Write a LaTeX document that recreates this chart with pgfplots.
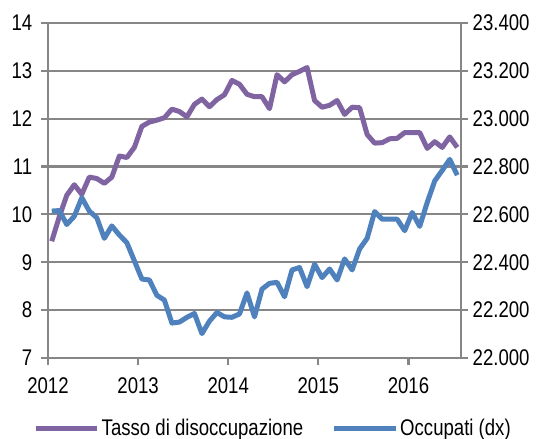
\documentclass[border=0pt]{standalone}
\usepackage{fontspec}
\setmainfont{Liberation Sans}[FakeStretch=0.82]
\usepackage{pgfplots}
\usepackage{pgfplotstable}
\pgfplotsset{compat=1.18}
\usetikzlibrary{calc}
\definecolor{purp}{HTML}{8064A2}
\definecolor{blu}{HTML}{4F81BD}
\definecolor{gridg}{HTML}{868686}

% month index i: 0 = Jan 2012 ... 54 = Jul 2016
\pgfplotstableread{
i  tasso
0  9.44
1  9.95
2  10.40
3  10.62
4  10.42
5  10.78
6  10.75
7  10.65
8  10.78
9  11.22
10 11.19
11 11.40
12 11.84
13 11.93
14 11.97
15 12.02
16 12.20
17 12.15
18 12.04
19 12.30
20 12.41
21 12.25
22 12.40
23 12.50
24 12.80
25 12.72
26 12.51
27 12.46
28 12.46
29 12.21
30 12.92
31 12.77
32 12.92
33 12.99
34 13.07
35 12.38
36 12.24
37 12.28
38 12.38
39 12.09
40 12.24
41 12.23
42 11.67
43 11.49
44 11.50
45 11.58
46 11.59
47 11.71
48 11.71
49 11.71
50 11.38
51 11.52
52 11.40
53 11.62
54 11.40
}\tasso

\pgfplotstableread{
i  occ
0  22614
1  22616
2  22558
3  22592
4  22670
5  22614
6  22586
7  22500
8  22552
9  22514
10 22482
11 22406
12 22330
13 22326
14 22262
15 22242
16 22146
17 22150
18 22170
19 22186
20 22102
21 22154
22 22190
23 22172
24 22170
25 22184
26 22272
27 22172
28 22288
29 22312
30 22316
31 22256
32 22368
33 22378
34 22298
35 22392
36 22336
37 22372
38 22326
39 22414
40 22368
41 22456
42 22500
43 22612
44 22580
45 22580
46 22580
47 22532
48 22608
49 22550
50 22650
51 22740
52 22784
53 22830
54 22764
}\occ

\begin{document}
\begin{tikzpicture}
\pgfplotsset{
  common/.style={
    scale only axis, width=309.75pt, height=251.25pt,
    xmin=-0.5, xmax=54.5,
    axis line style={gridg, line width=1.6pt},
    tick align=outside,
    major tick length=5.25pt,
    tick style={gridg, line width=1.6pt},
    tick label style={font=\fontsize{17}{17}\selectfont, text=black},
    scaled ticks=false,
  }
}
\begin{axis}[common, name=ax1,
  ymin=7, ymax=14,
  axis y line*=left, axis x line*=bottom,
  xtick={-0.5,11.5,23.5,35.5,47.5},
  xticklabels={2012,2013,2014,2015,2016},
  ytick={7,8,...,14},
  yticklabels={7,8,9,10,11,12,13,14},
  ymajorgrids, major grid style={gridg, line width=1.6pt},
  xtick pos=bottom, ytick pos=left,
  yticklabel style={xshift=-3pt},
  xticklabel style={yshift=-6pt},
]
\addplot[purp, line width=3.75pt, line join=round] table[x=i, y=tasso] {\tasso};
\end{axis}
\begin{axis}[common,
  ymin=22000, ymax=23400,
  axis y line*=right, axis x line=none,
  ytick={22000,22200,...,23400},
  yticklabels={22.000,22.200,22.400,22.600,22.800,23.000,23.200,23.400},
  ytick pos=right,
  yticklabel style={xshift=0pt},
  legend columns=2,
  legend style={draw=none, fill=none, at={(0.545,-0.209)}, anchor=center,
    font=\fontsize{17}{17}\selectfont,
    /tikz/every even column/.append style={column sep=20pt},
    nodes={inner sep=1.5pt}},
  legend image code/.code={\draw[#1] (0pt,0pt) -- (46pt,0pt);},
]
\addlegendimage{purp, line width=3.75pt}
\addlegendentry{Tasso di disoccupazione}
\addplot[blu, line width=3.75pt, line join=round] table[x=i, y=occ] {\occ};
\addlegendentry{Occupati (dx)}
\end{axis}
\pgfresetboundingbox
\path ($(ax1.south west)+(-36pt,-60.75pt)$) rectangle ($(ax1.north east)+(59.25pt,17.25pt)$);
\end{tikzpicture}
\end{document}
